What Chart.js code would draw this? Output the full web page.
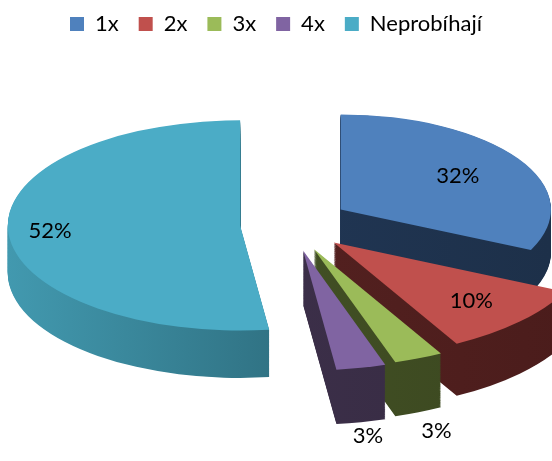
<!DOCTYPE html>
<html lang="cs">
<head>
<meta charset="UTF-8">
<title>Opakování</title>
<script src="https://cdn.jsdelivr.net/npm/chart.js"></script>
<style>
  html, body { margin: 0; padding: 0; background: #fff; }
  #wrap { width: 552px; height: 461px; position: relative; }
</style>
</head>
<body>
<div id="wrap"><canvas id="graf"></canvas></div>
<script>
  // data
  const kategorie = ['1x', '2x', '3x', '4x', 'Neprobíhají'];
  const podily = [32, 10, 3, 3, 52];

  // barvy vrchni plochy a boku (levy -> pravy odstin)
  const barvyVrch = ['#4F81BD', '#C0504D', '#9BBB59', '#8064A2', '#4BACC6'];
  const barvyBok = [
    ['#22395A', '#1D3049'],
    ['#5A2423', '#4A1C1B'],
    ['#485728', '#3A461F'],
    ['#41334F', '#352A41'],
    ['#4299AF', '#235664']
  ];
  // vysunuti vyseci v px (vodorovne), poloha popisku jako nasobek polomeru
  const vysunuti = [60, 60, 60, 60, 50];
  const popiskyR = [0.66, 0.74, 1.17, 1.12, 0.82];

  // elipsa kolace na obrazovce
  const stred = { x: 290, y: 224 };
  const rx = 230, ry = 104, hloubka = 47;
  const perspektiva = 0.16; // predni vysece vetsi, zadni mensi

  function stredUhel(arc) {
    return (arc.startAngle + arc.endAngle) / 2;
  }

  function geometrie(arc, i) {
    const a = stredUhel(arc);
    return {
      a: a,
      f: 1 + perspektiva * Math.sin(a),
      x: stred.x + Math.cos(a) * vysunuti[i],
      y: stred.y + Math.sin(a) * vysunuti[i] * ry / rx
    };
  }

  const kolac3d = {
    id: 'kolac3d',
    beforeDatasetsDraw(chart) {
      const ctx = chart.ctx;
      const arcs = chart.getDatasetMeta(0).data;
      const R = arcs[0].outerRadius;

      const boky = arcs.map((arc, i) => {
        const g = ctx.createLinearGradient(arc.x - R, 0, arc.x + R, 0);
        g.addColorStop(0, barvyBok[i][0]);
        g.addColorStop(1, barvyBok[i][1]);
        return g;
      });

      const kresli = (arc, i, podil, fill) => {
        const g = geometrie(arc, i);
        const kopie = Object.create(arc);
        kopie.options = Object.assign({}, arc.options, { backgroundColor: fill, borderWidth: 0, offset: 0 });
        ctx.save();
        ctx.translate(g.x, g.y + podil * hloubka * g.f);
        ctx.scale(rx / R * g.f, ry / R * g.f);
        ctx.translate(-arc.x, -arc.y);
        kopie.draw(ctx);
        ctx.restore();
      };

      const kroky = 60;
      for (let k = kroky; k >= 1; k--) {
        arcs.forEach((arc, i) => kresli(arc, i, k / kroky, boky[i]));
      }
      arcs.forEach((arc, i) => kresli(arc, i, 0, barvyVrch[i]));
      return false;
    },
    afterDraw(chart) {
      const ctx = chart.ctx;
      const arcs = chart.getDatasetMeta(0).data;
      ctx.save();
      ctx.font = '22px Lato';
      ctx.fillStyle = '#000';
      ctx.textAlign = 'center';
      ctx.textBaseline = 'middle';
      arcs.forEach((arc, i) => {
        const g = geometrie(arc, i);
        const r = popiskyR[i] * g.f;
        const x = g.x + Math.cos(g.a) * r * rx;
        const y = g.y + Math.sin(g.a) * r * ry + (popiskyR[i] > 1 ? hloubka * g.f : 0);
        ctx.fillText(podily[i] + '%', x, y);
      });
      ctx.restore();
    }
  };

  new Chart(document.getElementById('graf'), {
    type: 'pie',
    data: {
      labels: kategorie,
      datasets: [{
        data: podily,
        backgroundColor: barvyVrch,
        borderWidth: 0
      }]
    },
    options: {
      responsive: true,
      maintainAspectRatio: false,
      animation: false,
      radius: 150,
      layout: { padding: { top: -7 } },
      plugins: {
        tooltip: { enabled: false },
        legend: {
          position: 'top',
          labels: {
            boxWidth: 14,
            boxHeight: 14,
            padding: 20,
            color: '#000',
            font: { family: 'Lato', size: 22 }
          }
        }
      }
    },
    plugins: [kolac3d]
  });
</script>
</body>
</html>
